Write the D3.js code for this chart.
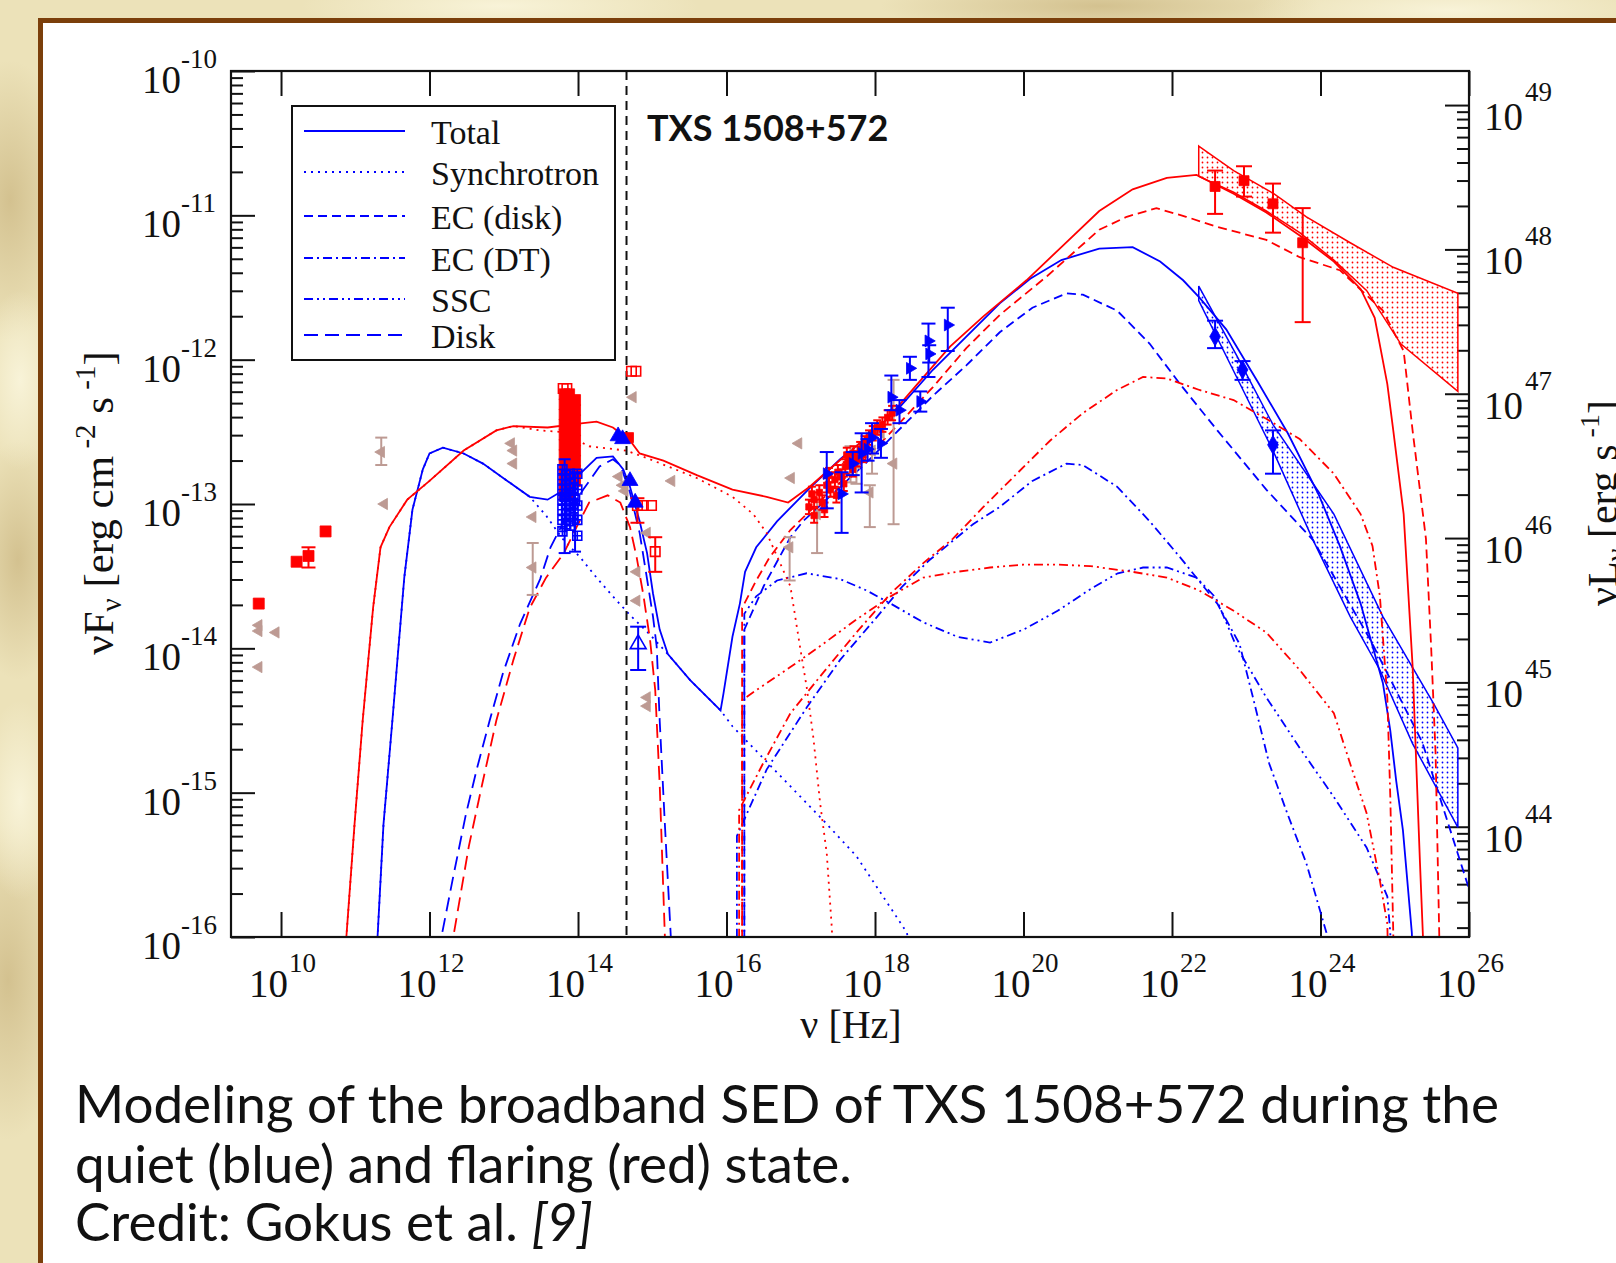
<!DOCTYPE html>
<meta charset="utf-8">
<script src="https://d3js.org/d3.v7.min.js"></script>
<style>
  body { margin: 0; background: #eee5bf; overflow: hidden; }
</style>
<div id="my_dataviz"></div>
<script>

// ---- data: [log10(nu/Hz), log10(nuFnu), errLow, errHigh] ----
var xTickExps = [10, 12, 14, 16, 18, 20, 22, 24, 26];
var yTickExps = [-16, -15, -14, -13, -12, -11, -10];
var yRightExps = [44, 45, 46, 47, 48, 49];
var legendLabels = ["Total", "Synchrotron", "EC (disk)", "EC (DT)", "SSC", "Disk"];
var cutNu = [4.5e14];

var blueTotal = [[11.28,-16.4],[11.30,-16.00],[11.38,-15.22],[11.50,-14.50],[11.66,-13.51],[11.77,-13.04],[11.91,-12.76],[12.00,-12.65],[12.18,-12.61],[12.46,-12.65],[12.72,-12.72],[13.02,-12.83],[13.35,-12.95],[13.59,-12.97],[13.82,-12.90],[14.03,-12.79],[14.25,-12.68],[14.47,-12.67],[14.61,-12.76],[14.70,-12.88],[14.83,-13.12],[14.93,-13.34],[15.01,-13.62],[15.10,-13.87],[15.21,-14.04],[15.51,-14.22],[15.92,-14.43],[15.96,-14.31],[16.08,-13.92],[16.18,-13.69],[16.25,-13.47],[16.40,-13.30],[16.68,-13.12],[17.12,-12.89],[17.53,-12.69],[17.89,-12.54],[18.33,-12.33],[18.78,-12.07],[19.23,-11.84],[19.68,-11.61],[20.09,-11.44],[20.51,-11.31],[21.02,-11.23],[21.47,-11.22],[21.84,-11.32],[22.15,-11.45],[22.37,-11.57],[22.73,-11.79],[23.15,-12.15],[23.56,-12.51],[23.98,-12.94],[24.26,-13.29],[24.54,-13.69],[24.84,-14.24],[24.94,-14.57],[25.02,-14.92],[25.11,-15.26],[25.23,-15.97],[25.26,-16.4]];
var blueSync = [[11.28,-16.4],[11.30,-16.00],[11.38,-15.22],[11.50,-14.50],[11.66,-13.51],[11.77,-13.04],[11.91,-12.76],[12.00,-12.65],[12.18,-12.61],[12.46,-12.65],[12.72,-12.72],[13.02,-12.83],[13.35,-12.95],[13.57,-13.08],[13.79,-13.24],[14.03,-13.37],[14.25,-13.51],[14.47,-13.64],[14.70,-13.77],[14.96,-13.90],[15.21,-14.04],[15.51,-14.22],[15.92,-14.43],[16.08,-14.54],[16.68,-14.86],[17.30,-15.19],[17.75,-15.44],[18.43,-15.97],[18.47,-16.1]];
var blueDisk = [[12.14,-16.4],[12.16,-16.00],[12.32,-15.58],[12.49,-15.15],[12.64,-14.83],[12.81,-14.50],[12.99,-14.17],[13.22,-13.83],[13.49,-13.52],[13.63,-13.30],[13.85,-13.08],[14.07,-12.90],[14.29,-12.74],[14.47,-12.69],[14.57,-12.73],[14.70,-12.92],[14.83,-13.20],[14.93,-13.52],[15.01,-13.78],[15.06,-13.99],[15.10,-14.50],[15.17,-15.22],[15.25,-16.00],[15.26,-16.4]];
var blueECdisk = [[16.24,-16.4],[16.24,-13.87],[16.50,-13.57],[16.86,-13.23],[17.03,-13.12],[17.87,-12.72],[18.78,-12.25],[19.23,-12.04],[19.68,-11.81],[20.12,-11.64],[20.58,-11.54],[20.80,-11.55],[21.26,-11.66],[21.70,-11.89],[22.11,-12.17],[22.61,-12.49],[23.27,-12.90],[23.90,-13.25],[24.67,-13.94],[25.37,-14.65],[25.99,-15.65]];
var blueECDT = [[16.14,-16.4],[16.14,-15.30],[16.54,-14.84],[17.08,-14.41],[17.53,-14.08],[18.03,-13.78],[18.37,-13.57],[18.73,-13.39],[19.32,-13.14],[19.68,-13.02],[20.12,-12.84],[20.58,-12.72],[20.80,-12.73],[21.26,-12.88],[21.70,-13.12],[22.11,-13.37],[22.61,-13.69],[22.91,-13.97],[23.09,-14.34],[23.31,-14.80],[23.55,-15.14],[23.81,-15.49],[24.08,-15.97],[24.10,-16.4]];
var blueSSC = [[16.24,-16.4],[16.24,-13.76],[16.40,-13.64],[16.68,-13.53],[17.08,-13.48],[17.53,-13.52],[17.89,-13.60],[18.21,-13.69],[18.65,-13.82],[19.11,-13.92],[19.55,-13.96],[20.00,-13.87],[20.46,-13.74],[20.90,-13.59],[21.27,-13.48],[21.61,-13.44],[21.93,-13.44],[22.33,-13.51],[22.59,-13.65],[22.87,-13.99],[23.27,-14.34],[23.72,-14.69],[24.18,-15.03],[24.62,-15.38],[24.90,-15.72],[24.94,-15.97],[24.95,-16.4]];

var redTotal = [[10.86,-16.4],[10.88,-16.00],[10.99,-15.22],[11.10,-14.50],[11.24,-13.72],[11.34,-13.30],[11.46,-13.16],[11.70,-12.97],[12.00,-12.84],[12.46,-12.63],[12.90,-12.49],[13.13,-12.46],[13.59,-12.47],[14.07,-12.44],[14.25,-12.43],[14.47,-12.47],[14.70,-12.56],[14.83,-12.65],[15.15,-12.70],[15.60,-12.80],[16.08,-12.90],[16.54,-12.95],[16.83,-12.99],[17.12,-12.88],[17.43,-12.74],[17.79,-12.58],[18.15,-12.42],[18.57,-12.17],[19.01,-11.91],[19.46,-11.70],[20.04,-11.45],[20.51,-11.22],[21.02,-10.97],[21.47,-10.82],[21.93,-10.74],[22.33,-10.72],[22.83,-10.85],[23.27,-10.98],[23.72,-11.14],[24.18,-11.32],[24.54,-11.51],[24.73,-11.71],[24.90,-12.17],[24.98,-12.49],[25.12,-13.07],[25.24,-14.12],[25.34,-15.49],[25.38,-16.00],[25.39,-16.4]];
var redSync = [[10.86,-16.4],[10.88,-16.00],[10.99,-15.22],[11.10,-14.50],[11.24,-13.72],[11.34,-13.30],[11.46,-13.16],[11.70,-12.97],[12.00,-12.84],[12.46,-12.63],[12.90,-12.49],[13.13,-12.46],[13.49,-12.49],[13.75,-12.50],[14.15,-12.60],[14.65,-12.63],[14.97,-12.69],[15.60,-12.82],[16.08,-12.95],[16.36,-13.07],[16.54,-13.20],[16.86,-13.57],[16.99,-13.99],[17.08,-14.27],[17.17,-14.62],[17.26,-15.07],[17.35,-15.42],[17.42,-15.95],[17.43,-16.4]];
var redDisk = [[12.30,-16.4],[12.32,-16.00],[12.53,-15.37],[12.71,-14.94],[12.90,-14.50],[13.13,-14.08],[13.35,-13.72],[13.57,-13.51],[13.81,-13.34],[13.99,-13.15],[14.15,-12.99],[14.40,-12.94],[14.57,-12.99],[14.70,-13.16],[14.79,-13.37],[14.88,-13.63],[14.97,-13.94],[15.04,-14.29],[15.10,-14.94],[15.17,-16.00],[15.18,-16.4]];
var redECdisk = [[16.21,-16.4],[16.21,-13.72],[16.40,-13.53],[16.58,-13.37],[16.86,-13.18],[17.32,-12.95],[17.87,-12.69],[18.33,-12.44],[18.78,-12.19],[19.23,-11.92],[19.68,-11.69],[20.32,-11.42],[21.02,-11.10],[21.39,-11.01],[21.79,-10.95],[22.19,-11.01],[22.61,-11.08],[23.27,-11.17],[23.72,-11.29],[24.26,-11.38],[24.84,-11.66],[25.12,-11.94],[25.24,-12.49],[25.42,-13.24],[25.49,-13.99],[25.55,-14.73],[25.60,-16.00],[25.61,-16.4]];
var redECDT = [[16.17,-16.4],[16.17,-15.12],[16.50,-14.79],[16.86,-14.45],[17.30,-14.17],[17.75,-13.89],[18.21,-13.62],[18.65,-13.41],[19.05,-13.24],[19.46,-13.02],[19.91,-12.79],[20.36,-12.56],[20.80,-12.37],[21.26,-12.21],[21.61,-12.12],[21.93,-12.13],[22.37,-12.21],[22.83,-12.28],[23.27,-12.41],[23.72,-12.55],[24.18,-12.79],[24.54,-13.07],[24.70,-13.29],[24.80,-13.64],[24.90,-14.34],[24.94,-15.03],[24.98,-15.97],[24.99,-16.4]];
var redSSC = [[16.21,-16.4],[16.21,-14.36],[16.40,-14.29],[16.86,-14.13],[17.30,-13.97],[17.75,-13.80],[18.21,-13.64],[18.65,-13.51],[19.10,-13.47],[19.55,-13.44],[20.00,-13.42],[20.46,-13.42],[20.90,-13.43],[21.47,-13.47],[21.93,-13.51],[22.37,-13.60],[22.83,-13.74],[23.27,-13.89],[23.72,-14.15],[24.18,-14.45],[24.40,-14.80],[24.62,-15.14],[24.80,-15.61],[24.90,-15.91],[24.92,-16.4]];

// Fermi-LAT butterflies (upper edge, lower edge)
var redBowUp = [[22.36,-10.52],[22.83,-10.69],[23.37,-10.85],[23.81,-11.01],[24.40,-11.19],[24.98,-11.36],[25.85,-11.54]];
var redBowLo = [[22.36,-10.73],[22.83,-10.84],[23.27,-10.97],[23.72,-11.12],[24.18,-11.31],[24.62,-11.52],[25.08,-11.89],[25.85,-12.22]];
var blueBowUp = [[22.36,-11.49],[22.87,-11.97],[23.36,-12.45],[24.18,-13.07],[24.84,-13.78],[25.52,-14.38],[25.85,-14.69]];
var blueBowLo = [[22.36,-11.59],[22.87,-12.12],[23.36,-12.63],[23.90,-13.25],[24.40,-13.78],[24.80,-14.15],[25.24,-14.66],[25.85,-15.24]];

// measurements
var redRadio = [[9.70,-13.69],[10.21,-13.40],[10.37,-13.36,-13.44,-13.30],[10.60,-13.19]];
var redIR = [[13.82,-12.24],[13.82,-12.31],[13.82,-12.38],[13.82,-12.45],[13.82,-12.52],[13.82,-12.59],[13.82,-12.66],[13.82,-12.73],[13.82,-12.80],[13.82,-12.87],[13.82,-12.94],
  [13.88,-12.24],[13.88,-12.31],[13.88,-12.38],[13.88,-12.45],[13.88,-12.52],[13.88,-12.59],[13.88,-12.66],[13.88,-12.73],[13.88,-12.80],[13.88,-12.87],[13.88,-12.94],
  [13.96,-12.28],[13.96,-12.35],[13.96,-12.42],[13.96,-12.49],[13.96,-12.56],[13.96,-12.63],[13.96,-12.70],[13.96,-12.77],[13.96,-12.84]];
var redOpen = [[13.80,-12.20],[13.85,-12.20],[14.72,-12.08],[14.78,-12.08],[14.80,-13.01,-13.13,-12.96],[14.88,-13.01],[14.99,-13.01],[15.04,-13.33,-13.47,-13.23]];
var redUV = [[14.68,-12.54]];
var redXray = [[17.11,-13.02,-13.07,-12.97],[17.18,-12.97,-13.02,-12.92],[17.25,-12.92,-12.97,-12.87],[17.29,-12.99,-13.04,-12.94],[17.35,-12.87,-12.92,-12.82],[17.40,-12.90,-12.95,-12.85],[17.46,-12.83,-12.88,-12.78],[17.50,-12.78,-12.83,-12.73],[17.55,-12.81,-12.86,-12.76],[17.60,-12.74,-12.79,-12.69],[17.65,-12.70,-12.75,-12.65],[17.71,-12.65,-12.70,-12.60],[17.76,-12.69,-12.74,-12.64],[17.80,-12.62,-12.67,-12.57],[17.86,-12.58,-12.63,-12.53],[17.92,-12.54,-12.59,-12.49],[17.97,-12.51,-12.56,-12.46],[18.03,-12.47,-12.52,-12.42],[18.10,-12.45,-12.50,-12.40],[18.17,-12.40,-12.45,-12.35],[18.23,-12.37,-12.42,-12.32],[17.18,-13.08,-13.13,-13.03],[17.32,-13.04,-13.09,-12.99],[17.48,-12.94,-12.99,-12.89],[17.15,-12.93,-12.98,-12.88],[17.38,-12.80,-12.85,-12.75],[17.62,-12.66,-12.71,-12.61],[17.58,-12.86,-12.91,-12.81],[17.70,-12.76,-12.81,-12.71],[17.84,-12.66,-12.71,-12.61]];
var redFermi = [[22.58,-10.80,-10.99,-10.69],[22.97,-10.76,-10.87,-10.66],[23.36,-10.92,-11.12,-10.78],[23.76,-11.19,-11.74,-10.95]];

var blueIR = [[13.79,-12.76],[13.79,-12.83],[13.79,-12.90],[13.79,-12.97],[13.79,-13.04],[13.79,-13.11],[13.79,-13.19],
  [13.84,-12.80],[13.84,-12.87],[13.84,-12.93],[13.84,-13.00],[13.84,-13.07],[13.84,-13.14],
  [13.89,-12.79],[13.89,-12.86],[13.89,-12.94],[13.89,-13.01],[13.89,-13.08],[13.89,-13.15],
  [13.94,-12.82],[13.94,-12.89],[13.94,-12.96],[13.94,-13.03],[13.94,-13.10],
  [13.99,-12.79],[13.99,-12.90],[13.99,-13.01],[13.99,-13.11],[13.99,-13.22],
  [13.82,-12.95,-13.34,-12.69],[13.96,-12.97,-13.33,-12.78]];
var blueOpt = [[14.54,-12.53],[14.60,-12.55],[14.70,-12.84],[14.77,-12.99]];
var blueUV = [[14.81,-13.97,-14.15,-13.85]];
var blueXray = [[17.35,-12.79,-13.03,-12.64],[17.55,-12.93,-13.20,-12.78],[17.82,-12.65,-12.92,-12.51],[17.96,-12.54,-12.65,-12.44],[18.08,-12.58,-12.68,-12.48],[18.22,-12.26,-12.35,-12.11],[18.33,-12.35,-12.44,-12.28],[18.47,-12.06,-12.14,-11.98],[18.61,-12.29,-12.36,-12.22],[18.72,-11.87,-12.12,-11.75],[18.73,-11.96,-12.02,-11.90],[18.98,-11.76,-11.94,-11.64],[17.70,-12.72,-12.80,-12.64],[17.90,-12.62,-12.70,-12.55]];
var blueFermi = [[22.58,-11.84,-11.92,-11.73],[22.95,-12.07,-12.14,-12.01],[23.36,-12.59,-12.79,-12.49]];

var archival = [[11.35,-12.64,-12.73,-12.54],[11.39,-13.00],[9.70,-13.84],[9.70,-13.88],[9.93,-13.89],[9.70,-14.13],[13.13,-12.63],[13.13,-12.72],[13.10,-12.58],[13.39,-13.09],[13.39,-13.44,-13.63,-13.27],[14.60,-12.87],[14.55,-12.81],[14.63,-12.91],[14.74,-12.26],[15.26,-12.84],[14.93,-13.20],[14.79,-13.47],[14.79,-13.67],[14.93,-14.34],[14.93,-14.40],
  [16.97,-12.58],[16.87,-12.82],[16.85,-13.30,-13.53,-13.23],[17.22,-13.07,-13.34,-12.97],[17.75,-12.72,-12.86,-12.65],[17.93,-12.92,-13.16,-12.87],[18.25,-12.72,-13.14,-12.14],[17.96,-12.63,-12.79,-12.51],[17.67,-12.69,-12.85,-12.60],[18.08,-12.51]];

// ---- layout ----
var W = 1616, H = 1263;
var L = 231, R = 1469, T = 71, B = 937;
var blue = "#0000ff", red = "#ff0000", gray = "#bd9a93";
var serif = "'Liberation Serif', 'DejaVu Serif', serif";

var x = d3.scaleLog().domain([2.12e9, 1e26]).range([L, R]);
var y = d3.scaleLog().domain([1e-16, 1e-10]).range([B, T]);
var yR = d3.scaleLog().domain([1.722e43, 1.722e49]).range([B, T]);

function fx(d) { return x(Math.pow(10, d[0])); }
function fy(d) { return y(Math.pow(10, d[1])); }

var svg = d3.select("#my_dataviz").append("svg")
    .attr("width", W).attr("height", H);

var defs = svg.append("defs");
var grad = defs.append("radialGradient").attr("id", "stain");
grad.append("stop").attr("offset", "0%").attr("stop-color", "#cdb985").attr("stop-opacity", 0.8);
grad.append("stop").attr("offset", "100%").attr("stop-color", "#cdb985").attr("stop-opacity", 0);
var grad2 = defs.append("radialGradient").attr("id", "light");
grad2.append("stop").attr("offset", "0%").attr("stop-color", "#f8f3d8").attr("stop-opacity", 1);
grad2.append("stop").attr("offset", "100%").attr("stop-color", "#f8f3d8").attr("stop-opacity", 0);

["dotsRed", "dotsBlue"].forEach(function(id, i) {
  var p = defs.append("pattern").attr("id", id).attr("width", 5).attr("height", 5)
      .attr("patternUnits", "userSpaceOnUse");
  p.append("circle").attr("cx", 2.5).attr("cy", 2.5).attr("r", 0.9).attr("fill", i ? blue : red);
});
defs.append("clipPath").attr("id", "plotclip")
  .append("rect").attr("x", L).attr("y", T).attr("width", R - L).attr("height", B - T);

// parchment background
svg.append("rect").attr("width", W).attr("height", H).attr("fill", "#ece2b9");
[[10, 200, 60, 140, "stain"], [18, 560, 50, 120, "stain"], [8, 980, 60, 160, "stain"],
 [20, 380, 40, 90, "light"], [20, 800, 40, 100, "light"], [500, 6, 200, 30, "light"],
 [1100, 6, 220, 30, "stain"], [1450, 10, 200, 30, "light"]].forEach(function(s) {
  svg.append("ellipse").attr("cx", s[0]).attr("cy", s[1]).attr("rx", s[2]).attr("ry", s[3])
    .attr("fill", "url(#" + s[4] + ")");
});

// white panel with brown frame
svg.append("rect").attr("x", 40.5).attr("y", 20.5).attr("width", 1700).attr("height", 1400)
  .attr("fill", "white").attr("stroke", "#7b3f0b").attr("stroke-width", 5);

// ---- axes ticks ----
function styleAxis(g) {
  g.select(".domain").remove();
  g.selectAll("line").attr("stroke", "#111").attr("stroke-width", 2);
}
var xMajor = xTickExps.map(function(e) { return Math.pow(10, e); });
svg.append("g").attr("transform", "translate(0," + B + ")")
  .call(d3.axisBottom(x).tickValues(xMajor).tickSize(-25).tickFormat("")).call(styleAxis);
svg.append("g").attr("transform", "translate(0," + T + ")")
  .call(d3.axisTop(x).tickValues(xMajor).tickSize(-25).tickFormat("")).call(styleAxis);

var yMajor = yTickExps.map(function(e) { return Math.pow(10, e); });
var yMinor = [];
yTickExps.forEach(function(e) { for (var m = 2; m < 10; m++) { if (e < -10) yMinor.push(m * Math.pow(10, e)); } });
svg.append("g").attr("transform", "translate(" + L + ",0)")
  .call(d3.axisLeft(y).tickValues(yMajor).tickSize(-24).tickFormat("")).call(styleAxis);
svg.append("g").attr("transform", "translate(" + L + ",0)")
  .call(d3.axisLeft(y).tickValues(yMinor).tickSize(-12).tickFormat("")).call(styleAxis);

var rMajor = yRightExps.map(function(e) { return Math.pow(10, e); });
var rMinor = [];
[43, 44, 45, 46, 47, 48].forEach(function(e) {
  for (var m = 2; m < 10; m++) { var v = m * Math.pow(10, e); if (v > 1.722e43 && v < 1.722e49) rMinor.push(v); }
});
svg.append("g").attr("transform", "translate(" + R + ",0)")
  .call(d3.axisRight(yR).tickValues(rMajor).tickSize(-24).tickFormat("")).call(styleAxis);
svg.append("g").attr("transform", "translate(" + R + ",0)")
  .call(d3.axisRight(yR).tickValues(rMinor).tickSize(-12).tickFormat("")).call(styleAxis);

// tick labels 10^n
var lab = svg.append("g").style("font-family", serif).attr("fill", "#111");
xTickExps.forEach(function(e) {
  var tx = x(Math.pow(10, e));
  lab.append("text").attr("x", tx - 32).attr("y", 997).style("font-size", "39px").text("10");
  lab.append("text").attr("x", tx + 8).attr("y", 972).style("font-size", "27px").text(e);
});
yTickExps.forEach(function(e) {
  var ty = y(Math.pow(10, e));
  lab.append("text").attr("x", 142).attr("y", ty + 22).style("font-size", "39px").text("10");
  lab.append("text").attr("x", 181).attr("y", ty - 3).style("font-size", "27px").text(e);
});
yRightExps.forEach(function(e) {
  var ty = yR(Math.pow(10, e));
  lab.append("text").attr("x", 1484).attr("y", ty + 25).style("font-size", "39px").text("10");
  lab.append("text").attr("x", 1525).attr("y", ty - 4).style("font-size", "27px").text(e);
});

// axis titles
lab.append("text").attr("x", 851).attr("y", 1038).attr("text-anchor", "middle")
  .style("font-size", "40px").text("ν [Hz]");
var yl = lab.append("text").attr("transform", "translate(113,503) rotate(-90)")
  .attr("text-anchor", "middle").style("font-size", "43px");
yl.append("tspan").text("νF");
yl.append("tspan").attr("dy", 8).style("font-size", "29px").text("ν");
yl.append("tspan").attr("dy", -8).text(" [erg cm");
yl.append("tspan").attr("dy", -18).style("font-size", "29px").text(" -2");
yl.append("tspan").attr("dy", 18).text(" s");
yl.append("tspan").attr("dy", -18).style("font-size", "29px").text(" -1");
yl.append("tspan").attr("dy", 18).text("]");
var yr = lab.append("text").attr("transform", "translate(1617,503) rotate(-90)")
  .attr("text-anchor", "middle").style("font-size", "42px");
yr.append("tspan").text("νL");
yr.append("tspan").attr("dy", 8).style("font-size", "28px").text("ν");
yr.append("tspan").attr("dy", -8).text(" [erg s");
yr.append("tspan").attr("dy", -18).style("font-size", "28px").text(" -1");
yr.append("tspan").attr("dy", 18).text("]");

// ---- plot content ----
var plot = svg.append("g").attr("clip-path", "url(#plotclip)");
var line = d3.line().x(fx).y(fy);

// butterflies
[[redBowUp, redBowLo, red, "dotsRed"], [blueBowUp, blueBowLo, blue, "dotsBlue"]].forEach(function(b) {
  var poly = b[0].concat(b[1].slice().reverse());
  plot.append("path").attr("d", line(poly) + "Z")
    .attr("fill", "url(#" + b[3] + ")").attr("stroke", b[2]).attr("stroke-width", 1.5);
});

var dashes = { total: null, sync: "2,5", ecDisk: "9,5", ecDT: "9,4,2,4", ssc: "9,4,2,4,2,4", disk: "14,7" };
var curves = [
  [blueSync, blue, dashes.sync], [blueDisk, blue, dashes.disk], [blueECdisk, blue, dashes.ecDisk],
  [blueECDT, blue, dashes.ecDT], [blueSSC, blue, dashes.ssc], [blueTotal, blue, dashes.total],
  [redSync, red, dashes.sync], [redDisk, red, dashes.disk], [redECdisk, red, dashes.ecDisk],
  [redECDT, red, dashes.ecDT], [redSSC, red, dashes.ssc], [redTotal, red, dashes.total]
];
curves.forEach(function(c) {
  plot.append("path").attr("d", line(c[0])).attr("fill", "none")
    .attr("stroke", c[1]).attr("stroke-width", 1.8)
    .attr("stroke-dasharray", c[2]);
});

// vertical dashed line
plot.append("line").attr("x1", x(cutNu[0])).attr("x2", x(cutNu[0]))
  .attr("y1", T).attr("y2", B).attr("stroke", "#111").attr("stroke-width", 2)
  .attr("stroke-dasharray", "9,6");

// error bars + markers
function errBars(data, color, cap) {
  var e = data.filter(function(d) { return d.length > 2; });
  var g = plot.append("g").attr("stroke", color).attr("stroke-width", 2);
  e.forEach(function(d) {
    var cx = fx(d), y1 = y(Math.pow(10, d[2])), y2 = y(Math.pow(10, d[3]));
    g.append("line").attr("x1", cx).attr("x2", cx).attr("y1", y1).attr("y2", y2);
    g.append("line").attr("x1", cx - cap).attr("x2", cx + cap).attr("y1", y1).attr("y2", y1);
    g.append("line").attr("x1", cx - cap).attr("x2", cx + cap).attr("y1", y2).attr("y2", y2);
  });
}
function marks(data, type, size, color, filled, rot) {
  plot.append("g").selectAll("path").data(data).enter().append("path")
    .attr("d", typeof type === "string" ? type : d3.symbol().type(type).size(size))
    .attr("transform", function(d) { return "translate(" + fx(d) + "," + fy(d) + ")" + (rot ? " rotate(" + rot + ")" : ""); })
    .attr("fill", filled ? color : "none")
    .attr("stroke", color).attr("stroke-width", filled ? 0.8 : 1.6);
}

errBars(archival, gray, 6);
marks(archival, d3.symbolTriangle, 55, gray, true, -90);

errBars(redRadio, red, 7);
marks(redRadio, d3.symbolSquare, 121, red, true);
marks(redIR, d3.symbolSquare, 121, red, true);
errBars(redOpen, red, 7);
marks(redOpen, d3.symbolSquare, 90, red, false);
marks(redUV, d3.symbolSquare, 100, red, true);

errBars(blueIR, blue, 6);
marks(blueIR, "M-4.5,-4.5h9v9h-9zM0,-4.5v9M-4.5,0h9", 0, blue, false);
marks(blueOpt, d3.symbolTriangle, 110, blue, true);
errBars(blueUV, blue, 8);
marks(blueUV, d3.symbolTriangle, 110, blue, false);

errBars(redXray, red, 4);
marks(redXray, d3.symbolSquare, 40, red, true);
errBars(blueXray, blue, 7);
marks(blueXray, d3.symbolTriangle, 60, blue, true, 90);

errBars(redFermi, red, 8);
marks(redFermi, d3.symbolSquare, 100, red, true);
errBars(blueFermi, blue, 8);
marks(blueFermi, d3.symbolDiamond, 100, blue, true);

// frame
svg.append("rect").attr("x", L).attr("y", T).attr("width", R - L).attr("height", B - T)
  .attr("fill", "none").attr("stroke", "#111").attr("stroke-width", 2.2);

// legend
var lg = svg.append("g");
lg.append("rect").attr("x", 292).attr("y", 106).attr("width", 323).attr("height", 254)
  .attr("fill", "white").attr("stroke", "#111").attr("stroke-width", 2);
var legDash = [dashes.total, dashes.sync, dashes.ecDisk, dashes.ecDT, dashes.ssc, dashes.disk];
var legRows = [131, 172, 216, 258, 299, 335];
legendLabels.forEach(function(t, i) {
  lg.append("line").attr("x1", 304).attr("x2", 405).attr("y1", legRows[i]).attr("y2", legRows[i])
    .attr("stroke", blue).attr("stroke-width", 1.8).attr("stroke-dasharray", legDash[i]);
  lg.append("text").attr("x", 431).attr("y", legRows[i] + 13)
    .style("font-family", serif).style("font-size", "34px").attr("fill", "#111").text(t);
});

// source name
svg.append("text").attr("x", 647).attr("y", 141)
  .style("font-family", "Lato, sans-serif").style("font-weight", "bold").style("font-size", "36px")
  .attr("fill", "#111").text("TXS 1508+572");

// caption
var cap = svg.append("g").style("font-family", "Lato, sans-serif").style("font-size", "53px").attr("fill", "#111");
cap.append("text").attr("x", 75).attr("y", 1123).text("Modeling of the broadband SED of TXS 1508+572 during the");
cap.append("text").attr("x", 75).attr("y", 1183).text("quiet (blue) and flaring (red) state.");
var c3 = cap.append("text").attr("x", 75).attr("y", 1241);
c3.append("tspan").text("Credit: Gokus et al. ");
c3.append("tspan").style("font-style", "italic").text("[9]");

</script>
